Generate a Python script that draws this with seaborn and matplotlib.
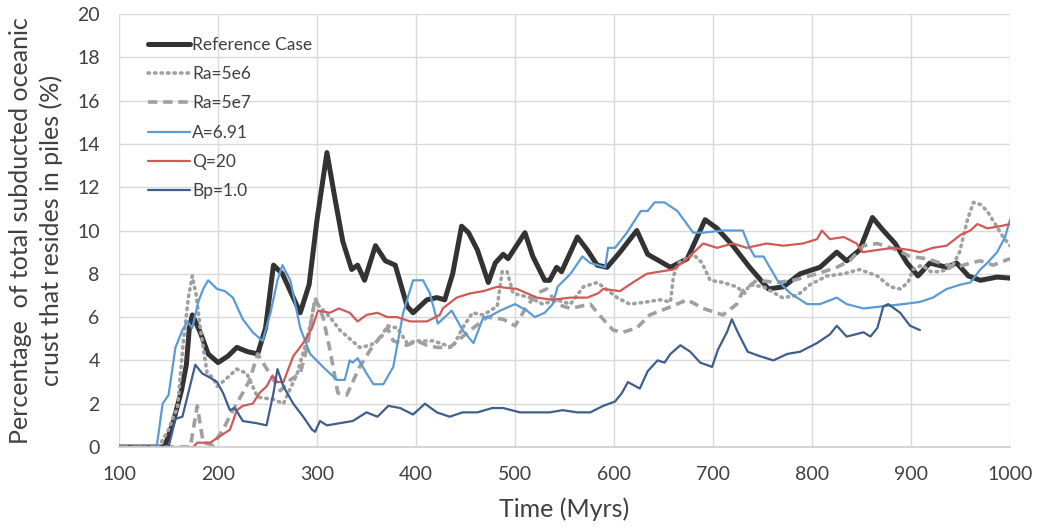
import matplotlib
matplotlib.use("Agg")
import matplotlib.pyplot as plt
import seaborn as sns
import pandas as pd

# ---------------- data ----------------
labels = ["Reference Case", "Ra=5e6", "Ra=5e7", "A=6.91", "Q=20", "Bp=1.0"]

ref_t = [100, 146, 155, 163, 168, 171, 174, 182, 190, 200, 210, 219, 230, 240, 248, 256, 265, 275,
         283, 292, 300, 310, 318, 326, 335, 341, 348, 359, 369, 379, 391, 397, 411, 421, 429, 437,
         446, 453, 462, 473, 480, 488, 493, 510, 518, 530, 535, 542, 547, 563, 573, 583, 593, 606,
         623, 634, 657, 674, 692, 704, 720, 737, 756, 771, 788, 808, 825, 835, 848, 861, 872, 884,
         896, 907, 919, 936, 946, 958, 970, 987, 1000]
ref_v = [0, 0, 1.2, 2.6, 3.8, 5.5, 6.1, 5.3, 4.3, 3.9, 4.2, 4.6, 4.4, 4.3, 5.5, 8.4, 8.0, 7.0,
         6.2, 7.5, 10.5, 13.6, 11.5, 9.5, 8.2, 8.4, 7.7, 9.3, 8.6, 8.4, 6.5, 6.2, 6.8, 6.9, 6.8, 8.0,
         10.2, 9.9, 9.1, 7.6, 8.5, 8.9, 8.7, 9.9, 8.8, 7.7, 7.7, 8.3, 8.1, 9.7, 9.1, 8.4, 8.3, 9.0,
         10.0, 8.9, 8.3, 8.7, 10.5, 10.1, 9.3, 8.3, 7.3, 7.4, 8.0, 8.3, 9.0, 8.6, 9.1, 10.6, 10.0, 9.4,
         8.5, 7.9, 8.5, 8.3, 8.5, 7.9, 7.7, 7.85, 7.8]

ra6_t = [100, 140, 150, 155, 159, 165, 170, 174, 178, 182, 189, 195, 199, 207, 219, 229, 240, 256,
         266, 280, 290, 298, 313, 323, 333, 343, 354, 364, 371, 381, 391, 401, 417, 424, 437, 447,
         457, 468, 482, 487, 492, 498, 515, 528, 542, 556, 569, 583, 589, 603, 616, 633, 646, 657,
         660, 665, 680, 689, 697, 710, 724, 732, 737, 751, 770, 785, 798, 815, 832, 848, 866, 879,
         889, 897, 902, 911, 920, 930, 941, 949, 957, 963, 970, 977, 985, 993, 1000]
ra6_v = [0, 0, 0.8, 1.4, 1.8, 4.9, 6.9, 7.9, 7.0, 5.5, 3.4, 3.2, 2.8, 3.1, 3.6, 3.4, 2.3, 2.2,
         2.0, 3.4, 5.0, 6.7, 6.0, 5.4, 5.0, 4.6, 4.7, 5.0, 5.6, 5.5, 4.8, 4.9, 4.9, 4.8, 4.6, 5.5,
         6.2, 6.1, 6.5, 8.1, 8.1, 7.1, 6.9, 6.6, 6.8, 6.6, 7.4, 7.6, 7.4, 6.9, 6.6, 6.7, 6.8, 6.7,
         7.9, 8.5, 8.9, 8.5, 7.7, 7.6, 7.4, 7.1, 7.5, 7.4, 6.9, 7.0, 7.5, 7.9, 8.0, 8.2, 7.9, 7.4,
         7.3, 7.6, 8.2, 8.4, 8.1, 8.1, 8.3, 9.0, 10.5, 11.3, 11.2, 10.9, 10.3, 9.7, 9.3]

ra7_t = [100, 172, 179, 185, 195, 205, 215, 225, 232, 240, 252, 263, 273, 283, 290, 298, 306, 313,
         321, 330, 343, 354, 364, 371, 377, 391, 401, 411, 421, 434, 455, 472, 488, 500, 512, 522,
         532, 542, 556, 576, 589, 599, 609, 623, 636, 653, 674, 690, 710, 724, 730, 744, 765, 781,
         805, 825, 838, 852, 866, 886, 899, 916, 929, 946, 960, 970, 983, 1000]
ra7_v = [0, 0, 1.9, 0.2, 0.1, 0.8, 1.7, 2.5, 3.1, 4.3, 3.4, 2.6, 3.1, 3.4, 4.6, 6.9, 6.0, 4.5,
         2.5, 2.4, 3.7, 4.5, 5.1, 5.5, 4.9, 4.7, 4.9, 4.7, 4.6, 4.6, 5.4, 6.0, 5.9, 5.6, 6.5, 7.1,
         7.3, 6.6, 6.4, 6.6, 5.9, 5.4, 5.3, 5.5, 6.1, 6.4, 6.8, 6.4, 6.1, 6.6, 7.2, 7.7, 7.6, 7.7,
         8.0, 8.3, 8.6, 9.3, 9.4, 9.1, 8.8, 8.7, 8.5, 8.3, 8.5, 8.6, 8.4, 8.7]

a_t = [100, 138, 144, 150, 157, 164, 169, 174, 180, 185, 190, 199, 207, 215, 225, 235, 245, 253,
       260, 265, 273, 283, 293, 306, 320, 328, 333, 336, 341, 350, 357, 367, 377, 387, 397, 407,
       414, 422, 436, 447, 458, 468, 473, 485, 500, 512, 520, 530, 538, 543, 556, 568, 576, 591,
       594, 601, 613, 627, 634, 641, 651, 664, 680, 690, 710, 730, 737, 742, 751, 765, 778, 795,
       808, 825, 835, 852, 872, 892, 909, 922, 936, 950, 960, 970, 977, 987, 995, 1000]
a_v = [0, 0, 2.0, 2.4, 4.6, 5.4, 5.8, 5.5, 6.7, 7.3, 7.7, 7.3, 7.2, 6.9, 5.9, 5.3, 4.9, 6.2,
       7.7, 8.4, 7.7, 5.5, 4.3, 3.7, 3.1, 3.1, 4.0, 3.9, 4.1, 3.4, 2.9, 2.9, 3.7, 6.2, 7.7, 7.7,
       7.1, 5.7, 6.3, 5.4, 4.8, 6.0, 6.0, 6.3, 6.6, 6.3, 6.0, 6.2, 6.6, 7.4, 8.0, 8.8, 8.5, 8.3,
       9.2, 9.2, 9.9, 10.9, 10.9, 11.3, 11.3, 10.9, 9.9, 9.9, 10.0, 10.0, 9.2, 8.8, 8.8, 7.7, 7.1, 6.6,
       6.6, 6.9, 6.6, 6.4, 6.5, 6.6, 6.7, 6.9, 7.3, 7.5, 7.6, 8.2, 8.5, 9.0, 9.7, 10.5]

q_t = [100, 175, 179, 192, 202, 212, 219, 225, 235, 242, 249, 255, 260, 266, 276, 286, 295, 301,
       313, 322, 333, 341, 350, 361, 371, 381, 394, 411, 424, 427, 441, 455, 468, 482, 502, 522,
       538, 556, 573, 584, 589, 606, 619, 633, 646, 660, 674, 690, 704, 720, 734, 754, 771, 791,
       805, 810, 818, 832, 845, 851, 866, 882, 899, 909, 922, 936, 950, 960, 967, 977, 990, 1000]
q_v = [0, 0, 0.2, 0.2, 0.5, 0.8, 1.7, 1.9, 2.0, 2.5, 2.8, 3.3, 3.0, 3.0, 4.2, 4.8, 5.5, 6.3,
       6.2, 6.4, 6.2, 5.8, 6.1, 6.2, 6.0, 6.0, 5.8, 5.8, 6.1, 6.4, 6.9, 7.1, 7.2, 7.4, 7.3, 6.9,
       6.8, 6.9, 6.9, 7.1, 7.3, 7.2, 7.6, 8.0, 8.1, 8.2, 8.7, 9.4, 9.2, 9.4, 9.2, 9.4, 9.3, 9.4,
       9.6, 10.0, 9.6, 9.7, 9.4, 9.0, 9.1, 9.2, 9.1, 9.0, 9.2, 9.3, 9.8, 10.0, 10.3, 10.1, 10.2, 10.3]

bp_t = [100, 150, 157, 164, 170, 177, 184, 192, 199, 205, 212, 217, 225, 239, 249, 256, 260, 266,
        276, 286, 295, 298, 303, 310, 323, 336, 350, 361, 372, 384, 397, 409, 421, 434, 447, 462,
        477, 488, 505, 522, 535, 548, 563, 576, 589, 601, 608, 614, 626, 634, 644, 651, 657, 667,
        677, 687, 699, 705, 714, 719, 725, 735, 747, 761, 775, 788, 805, 818, 825, 835, 852, 859,
        866, 872, 877, 889, 899, 909]
bp_v = [0, 0, 1.3, 1.4, 2.5, 3.8, 3.4, 3.2, 3.0, 2.5, 1.7, 1.8, 1.2, 1.1, 1.0, 2.5, 3.6, 2.8,
        2.0, 1.4, 0.8, 0.7, 1.2, 1.0, 1.1, 1.2, 1.6, 1.4, 1.9, 1.8, 1.5, 2.0, 1.6, 1.4, 1.6, 1.6,
        1.8, 1.8, 1.6, 1.6, 1.6, 1.7, 1.6, 1.6, 1.9, 2.1, 2.5, 3.0, 2.7, 3.5, 4.0, 3.9, 4.3, 4.7,
        4.4, 3.9, 3.7, 4.5, 5.3, 5.9, 5.3, 4.4, 4.2, 4.0, 4.3, 4.4, 4.8, 5.2, 5.6, 5.1, 5.3, 5.1,
        5.5, 6.5, 6.6, 6.2, 5.6, 5.4]

x_ticks = [100, 200, 300, 400, 500, 600, 700, 800, 900, 1000]
y_ticks = [0, 2, 4, 6, 8, 10, 12, 14, 16, 18, 20]

# ---------------- styling ----------------
sns.set_theme(style="white")
plt.rcParams["font.family"] = ["Lato", "DejaVu Sans"]

series = [
    (ref_t, ref_v, dict(color="#333333", lw=3.6, ls="-")),
    (ra6_t, ra6_v, dict(color="#A0A0A0", lw=2.6, ls=(0, (0.4, 1.4)), dash_capstyle="round")),
    (ra7_t, ra7_v, dict(color="#A0A0A0", lw=2.6, ls=(0, (2.6, 1.6)))),
    (a_t, a_v, dict(color="#5B9BD5", lw=1.6, ls="-")),
    (q_t, q_v, dict(color="#D05A57", lw=1.6, ls="-")),
    (bp_t, bp_v, dict(color="#3E5E8C", lw=1.6, ls="-")),
]

fig = plt.figure(figsize=(10.37, 5.29), dpi=100)
ax = fig.add_axes([0.1148, 0.155, 0.8592, 0.8185])

for lab, (t, v, st) in zip(labels, series):
    df = pd.DataFrame({"t": t, "v": v})
    sns.lineplot(data=df, x="t", y="v", ax=ax, label=lab, estimator=None, sort=False,
                 color=st["color"], linewidth=st["lw"], linestyle=st["ls"],
                 **({"dash_capstyle": st["dash_capstyle"]} if "dash_capstyle" in st else {}))

ax.set_xlim(100, 1000)
ax.set_ylim(0, 20)
ax.set_xticks(x_ticks)
ax.set_yticks(y_ticks)
ax.grid(True, color="#DADADA", linewidth=1.0)
ax.set_axisbelow(True)
for s in ["top", "right", "left"]:
    ax.spines[s].set_visible(False)
ax.spines["bottom"].set_color("#D0D0D0")
ax.tick_params(axis="both", length=0, labelsize=14, colors="#404040")
ax.tick_params(axis="x", pad=14)
ax.tick_params(axis="y", pad=14)

ax.set_xlabel("Time (Myrs)", fontsize=18, color="#404040", labelpad=10)
ax.set_ylabel("Percentage  of total subducted oceanic\ncrust that resides in piles (%)",
              fontsize=18, color="#404040", labelpad=10, linespacing=1.4)

leg = ax.legend(loc="upper left", bbox_to_anchor=(0.015, 0.983), frameon=False,
                fontsize=12.5, handlelength=2.4, handletextpad=0.15, labelspacing=0.76)
for txt in leg.get_texts():
    txt.set_color("#404040")

fig.savefig("out.png", dpi=100)
